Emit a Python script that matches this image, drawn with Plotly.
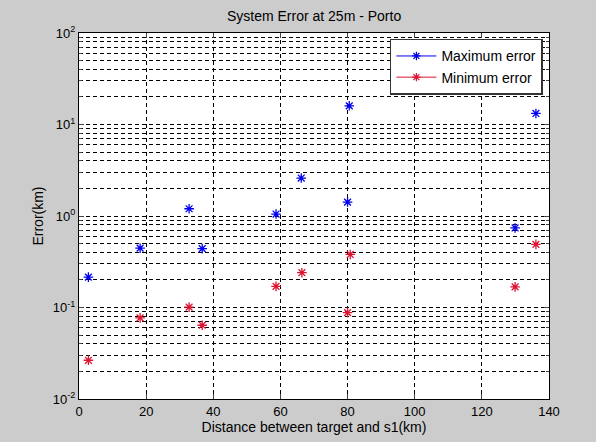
import plotly.graph_objects as go

# Data
dist_max = [2.8, 18.2, 32.8, 36.7, 58.7, 66.2, 80.5, 80.0, 136.1, 129.9]
err_max = [0.215, 0.445, 1.2, 0.44, 1.05, 2.6, 16.0, 1.42, 13.2, 0.74]
dist_min = [2.8, 18.2, 32.8, 36.7, 58.7, 66.4, 80.8, 80.0, 136.1, 129.9]
err_min = [0.0265, 0.077, 0.101, 0.064, 0.17, 0.24, 0.38, 0.088, 0.49, 0.168]

x_ticks = [0, 20, 40, 60, 80, 100, 120, 140]
y_ticks = [0.01, 0.1, 1, 10, 100]
y_ticktext = ["10<sup>-2</sup>", "10<sup>-1</sup>", "10<sup>0</sup>", "10<sup>1</sup>", "10<sup>2</sup>"]
y_minor = [m * d for d in [0.01, 0.1, 1, 10] for m in range(2, 10)]

BLUE = "#0000ee"
RED = "#dc1432"
FONT = "Liberation Sans, Arial, sans-serif"
DASH = "4px,3px"

fig = go.Figure()
fig.add_trace(go.Scatter(x=dist_max, y=err_max, mode="markers", showlegend=False,
                         marker=dict(symbol="asterisk-open", size=8, color=BLUE,
                                     line=dict(color=BLUE, width=1.3))))
fig.add_trace(go.Scatter(x=dist_min, y=err_min, mode="markers", showlegend=False,
                         marker=dict(symbol="asterisk-open", size=8, color=RED,
                                     line=dict(color=RED, width=1.3))))
# legend entries (line + marker, as in MATLAB legend)
fig.add_trace(go.Scatter(x=[None], y=[None], mode="lines+markers", name="Maximum error",
                         line=dict(color=BLUE, width=1),
                         marker=dict(symbol="asterisk-open", size=7, color=BLUE,
                                     line=dict(color=BLUE, width=1.2))))
fig.add_trace(go.Scatter(x=[None], y=[None], mode="lines+markers", name="Minimum error",
                         line=dict(color=RED, width=1),
                         marker=dict(symbol="asterisk-open", size=7, color=RED,
                                     line=dict(color=RED, width=1.2))))

fig.update_layout(
    width=596, height=442,
    margin=dict(l=79, r=47, t=33, b=43),
    paper_bgcolor="#cccccc", plot_bgcolor="white",
    font=dict(family=FONT, size=13, color="black"),
    title=dict(text="System Error at 25m - Porto", x=0.527, xanchor="center",
               y=1 - 16 / 442, yanchor="middle", font=dict(size=14)),
    legend=dict(x=0.987, xanchor="right", y=0.984, yanchor="top",
                bgcolor="white", bordercolor="#333333", borderwidth=1.5,
                font=dict(size=14), itemwidth=40,
                tracegroupgap=0),
    showlegend=True,
)
fig.update_xaxes(
    range=[0, 140], tickvals=x_ticks, ticks="inside", ticklen=5,
    showline=True, linecolor="black", linewidth=1, mirror="allticks",
    showgrid=True, gridcolor="black", griddash=DASH, gridwidth=1,
    zeroline=False, tickfont=dict(size=13),
    title=dict(text="Distance between target and s1(km)", font=dict(size=14), standoff=3),
)
fig.update_yaxes(
    type="log", range=[-2, 2], tickvals=y_ticks, ticktext=y_ticktext,
    ticks="inside", ticklen=5,
    showline=True, linecolor="black", linewidth=1, mirror="allticks",
    showgrid=True, gridcolor="black", griddash=DASH, gridwidth=1,
    zeroline=False, tickfont=dict(size=13),
    minor=dict(tickvals=y_minor, showgrid=True, gridcolor="black", griddash=DASH,
               gridwidth=1, ticks="inside", ticklen=3),
    title=dict(text="Error(km)", font=dict(size=14), standoff=5),
)

fig.write_html("out.html")
